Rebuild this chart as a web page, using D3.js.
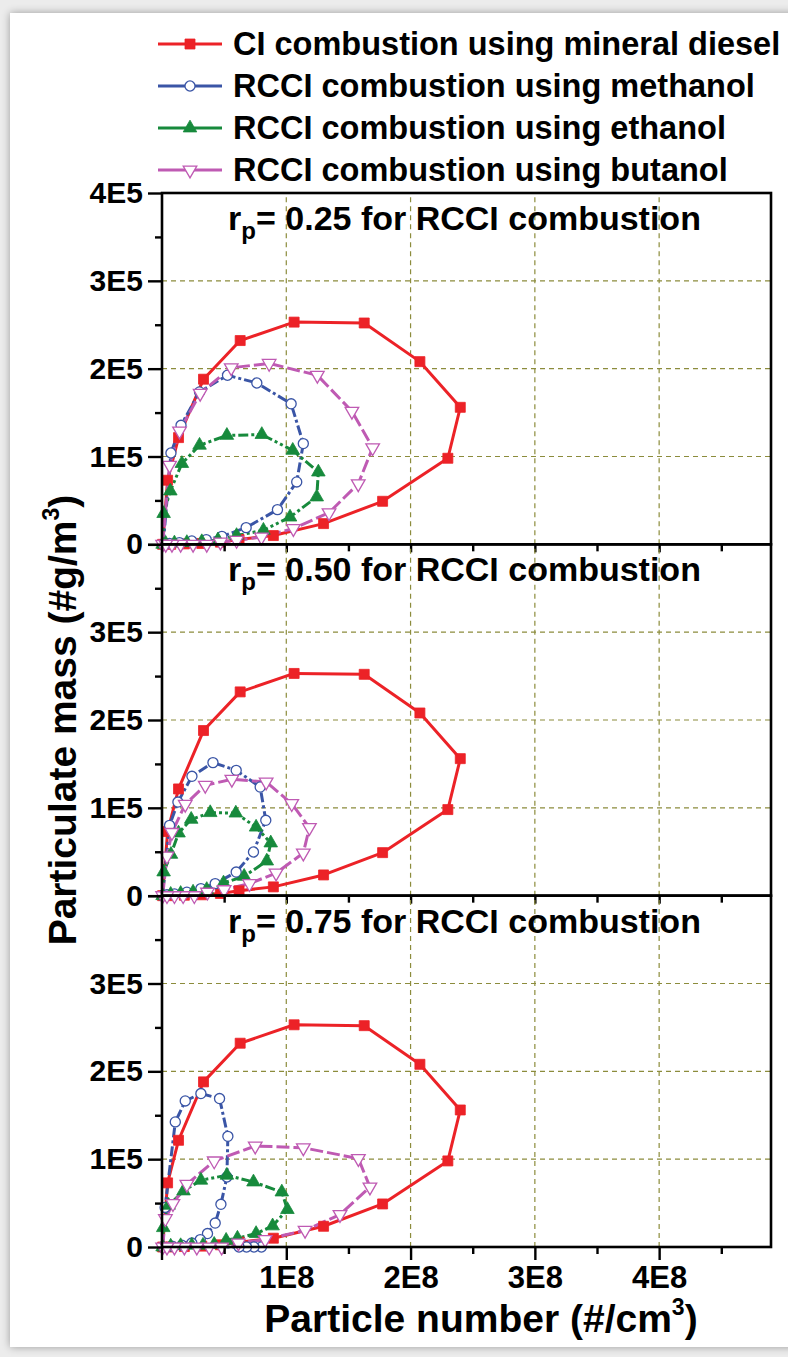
<!DOCTYPE html>
<html>
<head>
<meta charset="utf-8">
<script src="https://cdn.jsdelivr.net/npm/d3@7"></script>
<style>
  body { margin: 0; background: #e8e8e8; }
  svg { display: block; }
  text { font-family: "Liberation Sans", Arial, sans-serif; font-weight: bold; fill: #000; }
</style>
</head>
<body>
<script>
// ---- data: x in units of 1E8 #/cm3, y in units of 1E5 #g/m3 ----
const panelRatios = ["0.25", "0.50", "0.75"];
const xTickValues = [1, 2, 3, 4];
const xTickLabels = ["1E8", "2E8", "3E8", "4E8"];
const yTickValues = [0, 1, 2, 3, 4];
const yTickLabels = ["0", "1E5", "2E5", "3E5", "4E5"];
const seriesNames = [
  "CI combustion using mineral diesel",
  "RCCI combustion using methanol",
  "RCCI combustion using ethanol",
  "RCCI combustion using butanol"
];

// mineral diesel (same baseline in every panel)
const diesel = [[0.005,0.0],[0.045,0.73],[0.133,1.215],[0.334,1.88],[0.629,2.32],[1.063,2.53],[1.627,2.52],[2.075,2.08],[2.40,1.56],[2.30,0.98],[1.775,0.49],[1.30,0.236],[0.896,0.10],[0.62,0.055],[0.47,0.025],[0.32,0.01],[0.18,0.005],[0.07,0.0]];

// r_p = 0.25
const methanol25 = [[0.01,0.0],[0.072,1.04],[0.153,1.355],[0.302,1.735],[0.527,1.925],[0.763,1.837],[1.039,1.60],[1.137,1.147],[1.084,0.71],[0.929,0.395],[0.677,0.19],[0.482,0.091],[0.356,0.054],[0.24,0.038],[0.14,0.02],[0.06,0.01]];
const ethanol25 = [[0.005,0.0],[0.013,0.35],[0.067,0.607],[0.16,0.92],[0.302,1.128],[0.522,1.24],[0.803,1.25],[1.052,1.07],[1.258,0.823],[1.245,0.539],[1.03,0.31],[0.816,0.16],[0.60,0.10],[0.45,0.05],[0.32,0.03],[0.20,0.02],[0.10,0.015],[0.03,0.01]];
const butanol25 = [[0.005,0.0],[0.061,0.90],[0.141,1.29],[0.307,1.72],[0.557,2.01],[0.862,2.06],[1.25,1.925],[1.528,1.515],[1.695,1.10],[1.579,0.69],[1.344,0.36],[1.057,0.18],[0.80,0.083],[0.60,0.045],[0.47,0.026],[0.36,0.0],[0.25,0.0],[0.15,0.0],[0.08,0.0],[0.03,0.0]];

// r_p = 0.50
const methanol50 = [[0.005,0.0],[0.061,0.80],[0.128,1.066],[0.241,1.359],[0.41,1.515],[0.597,1.427],[0.79,1.237],[0.835,0.858],[0.736,0.497],[0.597,0.269],[0.428,0.137],[0.313,0.08],[0.20,0.04],[0.10,0.02],[0.04,0.01]];
const ethanol50 = [[0.005,0.0],[0.013,0.27],[0.072,0.47],[0.133,0.713],[0.235,0.869],[0.388,0.945],[0.594,0.94],[0.757,0.78],[0.875,0.60],[0.843,0.394],[0.661,0.22],[0.495,0.144],[0.36,0.07],[0.25,0.04],[0.15,0.025],[0.07,0.015]];
const butanol50 = [[0.005,0.0],[0.04,0.45],[0.08,0.72],[0.187,1.04],[0.348,1.256],[0.562,1.325],[0.838,1.294],[1.044,1.048],[1.186,0.775],[1.137,0.485],[0.918,0.257],[0.704,0.137],[0.50,0.068],[0.366,0.04],[0.26,0.0],[0.17,0.0],[0.10,0.0],[0.04,0.0]];

// r_p = 0.75
const methanol75 = [[0.80,0.0],[0.74,0.0],[0.68,0.0],[0.62,0.0],[0.005,0.0],[0.025,0.45],[0.107,1.424],[0.187,1.663],[0.313,1.747],[0.463,1.69],[0.53,1.26],[0.522,0.797],[0.474,0.486],[0.428,0.273],[0.366,0.153],[0.308,0.084],[0.24,0.045],[0.16,0.02],[0.08,0.01]];
const ethanol75 = [[0.005,0.0],[0.01,0.22],[0.053,0.475],[0.173,0.638],[0.313,0.76],[0.522,0.817],[0.736,0.74],[0.964,0.626],[1.009,0.426],[0.89,0.24],[0.757,0.153],[0.607,0.10],[0.516,0.076],[0.42,0.03],[0.33,0.02],[0.24,0.02],[0.15,0.015],[0.07,0.01]];
const butanol75 = [[0.005,0.0],[0.027,0.323],[0.088,0.494],[0.20,0.714],[0.42,0.98],[0.75,1.15],[1.137,1.13],[1.58,1.007],[1.673,0.683],[1.432,0.369],[1.151,0.19],[0.83,0.084],[0.615,0.046],[0.48,0.0],[0.38,0.0],[0.28,0.0],[0.18,0.0],[0.10,0.0],[0.04,0.0]];

const panelSeries = [
  [diesel, methanol25, ethanol25, butanol25],
  [diesel, methanol50, ethanol50, butanol50],
  [diesel, methanol75, ethanol75, butanol75]
];

// ---- styling ----
const styles = [
  { color: "#ec2227", symbol: d3.symbolSquare,   size: 100, fill: "#ec2227", rotate: 0,   dash: null },
  { color: "#3a55a6", symbol: d3.symbolCircle,   size: 80,  fill: "#fff",    rotate: 0,   dash: "10,3,3,3" },
  { color: "#178a3c", symbol: d3.symbolTriangle, size: 80,  fill: "#178a3c", rotate: 0,   dash: "10,3,3,3,3,3" },
  { color: "#bf5ab3", symbol: d3.symbolTriangle, size: 80,  fill: "#fff",    rotate: 180, dash: "13,4" }
];

const W = 788, H = 1357;
const plotLeft = 162, plotRight = 771, plotTop = 193, plotBottom = 1247;
const panelH = (plotBottom - plotTop) / 3;
const FONT = "'Liberation Sans', Arial, sans-serif";

const svg = d3.select("body").append("svg").attr("width", W).attr("height", H);

// card with soft shadow
const defs = svg.append("defs");
const f = defs.append("filter").attr("id", "shadow").attr("x", "-5%").attr("y", "-5%").attr("width", "110%").attr("height", "110%");
f.append("feGaussianBlur").attr("in", "SourceAlpha").attr("stdDeviation", 4);
f.append("feComponentTransfer").append("feFuncA").attr("type", "linear").attr("slope", 0.35);
const fm = f.append("feMerge");
fm.append("feMergeNode");
fm.append("feMergeNode").attr("in", "SourceGraphic");
svg.append("rect").attr("width", W).attr("height", H).attr("fill", "#ececec");
svg.append("rect").attr("x", 10).attr("y", 13).attr("width", W + 20).attr("height", 1334)
  .attr("fill", "#fff").attr("filter", "url(#shadow)");

const x = d3.scaleLinear().domain([0, 4.9]).range([plotLeft, plotRight]);
const gridColor = "#8c8c3c";

panelSeries.forEach((seriesList, pi) => {
  const top = plotTop + pi * panelH, bottom = top + panelH;
  const y = d3.scaleLinear().domain([0, 4]).range([bottom, top]);
  const g = svg.append("g");

  // dashed grid
  g.selectAll(".vg").data(xTickValues).join("line")
    .attr("x1", d => x(d)).attr("x2", d => x(d)).attr("y1", bottom).attr("y2", top)
    .attr("stroke", gridColor).attr("stroke-width", 1.2).attr("stroke-dasharray", "5,4");
  g.selectAll(".hg").data([1, 2, 3]).join("line")
    .attr("x1", plotLeft).attr("x2", plotRight).attr("y1", d => y(d)).attr("y2", d => y(d))
    .attr("stroke", gridColor).attr("stroke-width", 1.2).attr("stroke-dasharray", "5,4");

  // series lines, then markers on top
  seriesList.forEach((data, si) => {
    const s = styles[si];
    const line = d3.line().x(d => x(d[0])).y(d => y(d[1]));
    g.append("path").datum(data).attr("d", line)
      .attr("fill", "none").attr("stroke", s.color).attr("stroke-width", 3)
      .attr("stroke-linejoin", "round")
      .attr("stroke-dasharray", s.dash);
  });
  seriesList.forEach((data, si) => {
    const s = styles[si];
    const sym = d3.symbol().type(s.symbol).size(s.size);
    g.selectAll(null).data(data).join("path")
      .attr("d", sym)
      .attr("transform", d => `translate(${x(d[0])},${y(d[1])}) rotate(${s.rotate})`)
      .attr("fill", s.fill).attr("stroke", s.color).attr("stroke-width", s.fill === "#fff" ? 1.3 : 0.8);
  });

  // y axis ticks
  const yAxis = d3.axisLeft(y).tickValues(yTickValues)
    .tickFormat((d, i) => (pi > 0 && d === 4) ? "" : yTickLabels[i])
    .tickSize(14).tickPadding(5);
  const ya = g.append("g").attr("transform", `translate(${plotLeft},0)`).call(yAxis);
  ya.select(".domain").remove();
  ya.selectAll("line").attr("stroke", "#000").attr("stroke-width", 2.4);
  ya.selectAll("text").attr("font-size", 30).style("font-family", FONT).style("font-weight", "bold");
  const yMinor = d3.axisLeft(y).tickValues([0.5, 1.5, 2.5, 3.5]).tickSize(7).tickFormat("");
  const ym = g.append("g").attr("transform", `translate(${plotLeft},0)`).call(yMinor);
  ym.select(".domain").remove();
  ym.selectAll("line").attr("stroke", "#000").attr("stroke-width", 2.4);

  // x ticks along the bottom edge of each panel
  const last = pi === 2;
  const xAxis = d3.axisBottom(x).tickValues(xTickValues)
    .tickFormat((d, i) => last ? xTickLabels[i] : "")
    .tickSize(last ? 13 : 8).tickPadding(6);
  const xa = g.append("g").attr("transform", `translate(0,${bottom})`).call(xAxis);
  xa.select(".domain").remove();
  xa.selectAll("line").attr("stroke", "#000").attr("stroke-width", 2.4);
  xa.selectAll("text").attr("font-size", 31).style("font-family", FONT).style("font-weight", "bold");
  const xMinor = d3.axisBottom(x).tickValues([0.5, 1.5, 2.5, 3.5, 4.5]).tickSize(7).tickFormat("");
  const xm = g.append("g").attr("transform", `translate(0,${bottom})`).call(xMinor);
  xm.select(".domain").remove();
  xm.selectAll("line").attr("stroke", "#000").attr("stroke-width", 2.4);

  // panel frame
  g.append("rect").attr("x", plotLeft).attr("y", top).attr("width", plotRight - plotLeft).attr("height", panelH)
    .attr("fill", "none").attr("stroke", "#000").attr("stroke-width", 2.6);

  // panel title
  const t = g.append("text").attr("x", (plotLeft + plotRight) / 2 - 2).attr("y", top + 37)
    .attr("text-anchor", "middle").attr("font-size", 34);
  t.append("tspan").text("r");
  t.append("tspan").attr("font-size", 24).attr("dy", 9).text("p");
  t.append("tspan").attr("dy", -9).text(`= ${panelRatios[pi]} for RCCI combustion`);
});

// y axis line extends below the bottom edge, as the origin tick
svg.append("line").attr("x1", plotLeft).attr("x2", plotLeft).attr("y1", plotBottom).attr("y2", plotBottom + 13)
  .attr("stroke", "#000").attr("stroke-width", 2.4);

// axis titles
const xt = svg.append("text").attr("x", 481).attr("y", 1332).attr("text-anchor", "middle").attr("font-size", 39);
xt.append("tspan").text("Particle number (#/cm");
xt.append("tspan").attr("font-size", 23).attr("dy", -17).text("3");
xt.append("tspan").attr("dy", 17).text(")");

const yt = svg.append("text").attr("transform", `translate(76,${(plotTop + plotBottom) / 2}) rotate(-90)`)
  .attr("text-anchor", "middle").attr("font-size", 39);
yt.append("tspan").text("Particulate mass (#g/m");
yt.append("tspan").attr("font-size", 23).attr("dy", -17).text("3");
yt.append("tspan").attr("dy", 17).text(")");

// legend
const legendRows = [44, 86, 128, 170];
seriesNames.forEach((name, i) => {
  const s = styles[i];
  const ry = legendRows[i];
  svg.append("line").attr("x1", 158).attr("x2", 222).attr("y1", ry).attr("y2", ry)
    .attr("stroke", s.color).attr("stroke-width", 3);
  svg.append("path").attr("d", d3.symbol().type(s.symbol).size(s.size)())
    .attr("transform", `translate(190,${ry}) rotate(${s.rotate})`)
    .attr("fill", s.fill).attr("stroke", s.color).attr("stroke-width", s.fill === "#fff" ? 1.3 : 0.8);
  svg.append("text").attr("x", 233).attr("y", ry + 11).attr("font-size", 32.5).text(name);
});
</script>
</body>
</html>
